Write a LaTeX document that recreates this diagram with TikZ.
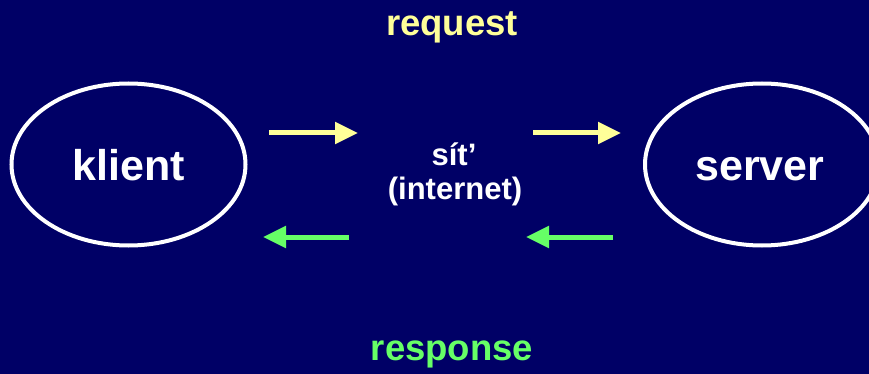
\documentclass[tikz,border=0pt]{standalone}
\usepackage{fontspec}
\setmainfont{Liberation Sans}
\usetikzlibrary{shapes.geometric,arrows.meta}
\definecolor{bg}{HTML}{000066}
\definecolor{req}{HTML}{FFFF99}
\definecolor{resp}{HTML}{66FF66}
\tikzset{
  endpoint/.style={ellipse, draw=white, line width=4pt, minimum width=234pt, minimum height=162pt, inner sep=0pt},
  bigtxt/.style={text=white, font=\bfseries\fontsize{43}{43}\selectfont},
  midtxt/.style={text=white, font=\bfseries\fontsize{31}{31}\selectfont, anchor=base},
  reqarrow/.style={draw=req, line width=5pt, -{Triangle[length=23pt,width=21pt]}},
  resparrow/.style={draw=resp, line width=5pt, -{Triangle[length=23pt,width=21pt]}},
}
\begin{document}
\begin{tikzpicture}[x=1pt,y=-1pt]
\useasboundingbox (0,0) rectangle (869,374);
\fill[bg] (0,0) rectangle (869,374);
\clip (0,0) rectangle (869,374);
\node[endpoint] (klient) at (128.5,164.5) {};
\node[endpoint] (server) at (762,164.5) {};
\node[bigtxt, anchor=base] (kl) at (129,180) {klient};
\node[bigtxt, anchor=base] (sv) at (760,180) {server};
\node[midtxt] (sit) at (454,165) {sít’};
\node[midtxt] (inet) at (455,200) {(internet)};
\node[text=req, font=\bfseries\fontsize{36.5}{36.5}\selectfont, anchor=base] (request) at (452,36) {request};
\node[text=resp, font=\bfseries\fontsize{36.5}{36.5}\selectfont, anchor=base] (response) at (452,360) {response};
\coordinate (a1s) at (269,133); \coordinate (a1e) at (358,133);
\coordinate (a2s) at (533,133); \coordinate (a2e) at (621,133);
\coordinate (b1s) at (349,237); \coordinate (b1e) at (263,237);
\coordinate (b2s) at (613,237); \coordinate (b2e) at (526,237);
\draw[reqarrow] (a1s) -- (a1e);
\draw[reqarrow] (a2s) -- (a2e);
\draw[resparrow] (b1s) -- (b1e);
\draw[resparrow] (b2s) -- (b2e);
\end{tikzpicture}
\end{document}
